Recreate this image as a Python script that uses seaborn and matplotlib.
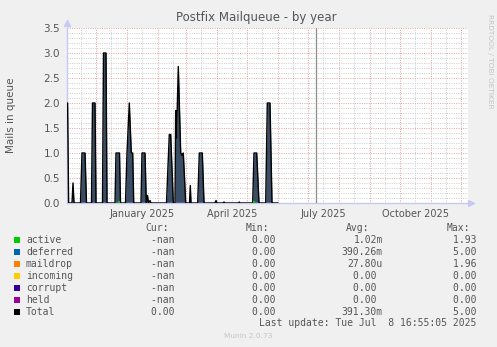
import numpy as np
import pandas as pd
import matplotlib
matplotlib.use("Agg")
import matplotlib.pyplot as plt
import matplotlib.dates as mdates
from matplotlib.ticker import MultipleLocator, FuncFormatter
from matplotlib.patches import Rectangle
import seaborn as sns

# ---- data -------------------------------------------------------------
# Daily-average queue size (Total), days counted from 2025-01-01
total_days = [-59.4, -58.4, -55, -54, -53, -46.5, -45, -42, -40.5, -35.5, -34.5, -32, -31,
              -24.5, -23.5, -21, -20, -12, -11, -7.5, -6.5, -1.5, 0, 2.3, 4.3, 5.7, 6.7,
              14, 15, 18, 19.3, 20.5, 21.5, 23, 24, 39.5, 42.3, 43.7, 46.3, 48, 48.7, 49.5,
              51.3, 53.7, 55.3, 56.3, 58.7, 62.5, 63.3, 64, 70.7, 72.3, 75.3, 77, 88, 89,
              90, 96, 97, 98, 111.5, 112.3, 113, 125.7, 127, 129.7, 132, 138.7, 140.3,
              143, 145, 151]
total_vals = [2.0, 0, 0, 0.4, 0, 0, 1.0, 1.0, 0, 0, 2.0, 2.0, 0,
              0, 3.0, 3.0, 0, 0, 1.0, 1.0, 0, 0, 1.0, 2.0, 1.0, 1.0, 0,
              0, 1.0, 1.0, 0, 0.15, 0, 0.05, 0, 0, 1.37, 1.37, 0, 0, 1.85, 1.3,
              2.73, 1.0, 0.95, 1.0, 0, 0, 0.35, 0, 0, 1.0, 1.0, 0, 0, 0.05,
              0, 0, 0.02, 0, 0, 0.02, 0, 0, 1.0, 1.0, 0, 0, 2.0,
              2.0, 0, 0]

# Short bursts of active mails (one burst per entry in active_burst)
active_burst = [1, 1, 1, 2, 2, 2]
active_days = [-8.5, -8, -7.5, 126.5, 127, 127.5]
active_vals = [0, 0.03, 0, 0, 0.03, 0]

series_names = ["active", "deferred", "maildrop", "incoming", "corrupt", "held", "Total"]
series_colors = ["#00CC00", "#0066B3", "#FF8000", "#FFCC00", "#330099", "#990099", "#000000"]
cur_vals = ["-nan ", "-nan ", "-nan ", "-nan ", "-nan ", "-nan ", "0.00 "]
min_vals = ["0.00 ", "0.00 ", "0.00 ", "0.00 ", "0.00 ", "0.00 ", "0.00 "]
avg_vals = ["1.02m", "390.26m", "27.80u", "0.00 ", "0.00 ", "0.00 ", "391.30m"]
max_vals = ["1.93 ", "5.00 ", "1.96 ", "0.00 ", "0.00 ", "0.00 ", "5.00 "]

base = pd.Timestamp("2025-01-01")
now = pd.Timestamp("2025-07-08 16:55:05")

df = pd.DataFrame({"date": base + pd.to_timedelta(np.array(total_days), unit="D"),
                   "mails": total_vals})
act = pd.DataFrame({"date": base + pd.to_timedelta(np.array(active_days), unit="D"),
                    "mails": active_vals, "burst": active_burst})

# ---- figure -----------------------------------------------------------
W, H = 497, 347
sns.set_style("white")
plt.rcParams["font.family"] = ["DejaVu Sans"]
fig = plt.figure(figsize=(W / 100, H / 100), dpi=100, facecolor="#F0F0F0")
ax = fig.add_axes([67 / W, 1 - 203 / H, 401 / W, 175 / H])
ax.set_facecolor("#FFFFFF")

txt = "#555555"
mgrid = "#E8A6A6"
grid = "#CECECE"
axis_c = "#C8C8F4"
dots = (0, (1, 1.3))

ax.set_xlim(base + pd.Timedelta(days=-60), base + pd.Timedelta(days=341))
ax.set_ylim(0, 3.5)

ax.xaxis.set_major_locator(mdates.MonthLocator())
ax.xaxis.set_minor_locator(mdates.MonthLocator(bymonthday=16))
ax.xaxis.set_major_formatter(FuncFormatter(lambda v, p: ""))
ax.xaxis.set_minor_formatter(FuncFormatter(
    lambda v, p: mdates.num2date(v).strftime("%B %Y") if mdates.num2date(v).month in (1, 4, 7, 10) else ""))
ax.yaxis.set_major_locator(MultipleLocator(0.5))
ax.yaxis.set_minor_locator(MultipleLocator(0.1))
ax.yaxis.set_major_formatter(FuncFormatter(lambda v, p: f"{v:.1f}"))

ax.grid(which="minor", color=grid, linestyle=dots, linewidth=0.72)
ax.grid(which="major", color=mgrid, linestyle=dots, linewidth=0.72)
ax.set_axisbelow(True)
ax.tick_params(which="both", length=0, colors=txt, labelsize=7)
ax.tick_params(axis="x", which="minor", pad=4.5)
ax.tick_params(axis="y", pad=5, labelsize=7.5)

for s in ["top", "right"]:
    ax.spines[s].set_visible(False)
for s in ["left", "bottom"]:
    ax.spines[s].set_color(axis_c)
    ax.spines[s].set_linewidth(1)
    ax.spines[s].set_zorder(2.5)

# arrows at the ends of the axes
ax.plot([0], [1.03], marker="^", color=axis_c, ms=4, transform=ax.transAxes, clip_on=False, zorder=6)
ax.plot([1.008], [0], marker=">", color=axis_c, ms=4, transform=ax.transAxes, clip_on=False, zorder=6)

# data
ax.fill_between(df["date"], df["mails"], color="#3A4F66", linewidth=0, zorder=2)
sns.lineplot(data=df, x="date", y="mails", ax=ax, color="black", linewidth=1.0, zorder=3)
sns.lineplot(data=act, x="date", y="mails", units="burst", estimator=None, ax=ax,
             color="#00CC00", linewidth=1.2, zorder=6)
ax.axvline(now, color="#8C8C8C", linewidth=0.9, zorder=4)
ax.set_xlabel("")
ax.set_ylabel("")

# ---- text ---------------------------------------------------------------
def fx(x):
    return x / W

def fy(y):
    return 1 - y / H

fig.text(fx(256), fy(17), "Postfix Mailqueue - by year", ha="center", va="center",
         fontsize=8.5, color=txt)
fig.text(fx(11), fy(115), "Mails in queue", ha="center", va="center", rotation=90,
         fontsize=7.5, color=txt)
fig.text(fx(490), fy(14), "RRDTOOL / TOBI OETIKER", ha="center", va="top", rotation=270,
         fontsize=5.3, color="#C4C4C4")

mono = "DejaVu Sans Mono"
fs = 7
cw = 0.6021 * fs / 72 * 100  # character advance in pixels

def mtext(x, y, s, **kw):
    fig.text(fx(x), fy(y), s, ha="left", va="center", fontsize=fs, family=mono, color=txt, **kw)

def right_col(xr, y, s):
    mtext(xr - len(s) * cw, y, s)

mtext(145, 227.7, "Cur:")
mtext(246, 227.7, "Min:")
mtext(346, 227.7, "Avg:")
mtext(447, 227.7, "Max:")

row_y = [239.7, 251.7, 263.7, 275.7, 287.7, 299.7, 311.7]
for name, col, c, mn, av, mx, y in zip(series_names, series_colors, cur_vals, min_vals,
                                        avg_vals, max_vals, row_y):
    fig.patches.append(Rectangle((fx(14), fy(y + 3)), 6 / W, 6 / H, transform=fig.transFigure,
                                 facecolor=col, edgecolor="none"))
    mtext(26, y, name)
    right_col(180.2, y, c)
    right_col(281.5, y, mn)
    right_col(382.7, y, av)
    right_col(482.5, y, mx)

fig.text(fx(476.7), fy(323.5), "Last update: Tue Jul  8 16:55:05 2025", ha="right", va="center",
         fontsize=fs, family=mono, color=txt)
fig.text(fx(248), fy(335.7), "Munin 2.0.73", ha="center", va="center", fontsize=5.3,
         color="#C4C4C4")

fig.savefig("out.png", dpi=100, facecolor=fig.get_facecolor())
